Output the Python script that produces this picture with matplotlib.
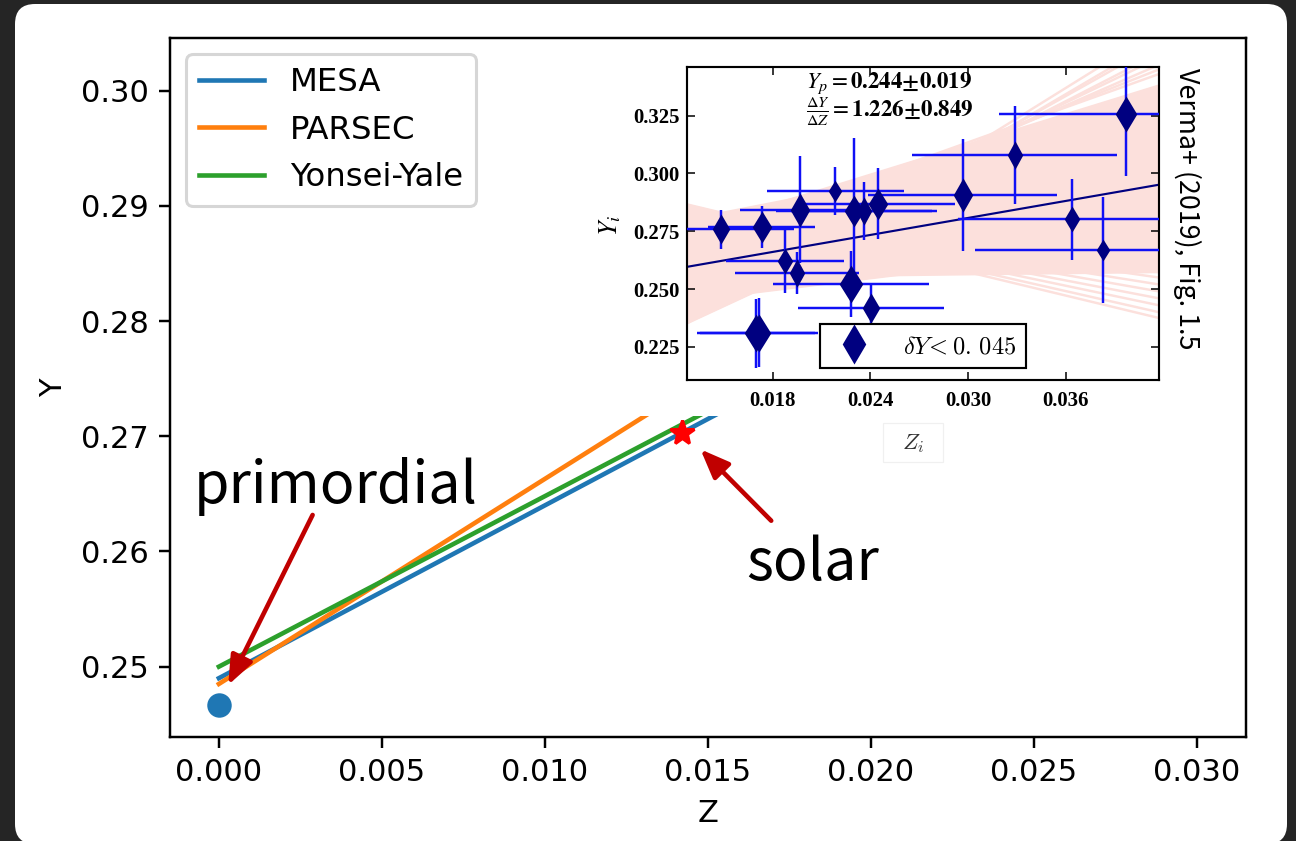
import numpy as np
import matplotlib
matplotlib.use("Agg")
import matplotlib.pyplot as plt
from matplotlib.patches import FancyBboxPatch, Rectangle
from matplotlib.transforms import IdentityTransform
from matplotlib.lines import Line2D

# ---------------- data: main panel ----------------
model_names = ["MESA", "PARSEC", "Yonsei-Yale"]
model_Yp = [0.249, 0.2485, 0.250]          # primordial helium of each grid
model_dYdZ = [1.50, 1.78, 1.48]            # enrichment ratio of each grid
model_Z_range = [0.0, 0.030]

primordial_Z = [0.0]
primordial_Y = [0.2467]
solar_Z = [0.0142]
solar_Y = [0.2703]

# ---------------- data: inset (Verma+ 2019, Fig. 1.5) ----------------
Zi = [0.01482, 0.01732, 0.01875, 0.01948, 0.01970, 0.02184, 0.02300, 0.02361,
      0.02281, 0.02446, 0.02404, 0.01698, 0.01716, 0.02967, 0.03285, 0.03635,
      0.03829, 0.03970]
Yi = [0.2758, 0.2769, 0.2620, 0.2570, 0.2844, 0.2924, 0.2837, 0.2837,
      0.2522, 0.2870, 0.2418, 0.2309, 0.2312, 0.2905, 0.3080, 0.2801,
      0.2668, 0.3257]
Zi_err = [0.0045, 0.0033, 0.0036, 0.0038, 0.0037, 0.0042, 0.0048, 0.0045,
          0.0048, 0.0047, 0.0045, 0.0036, 0.0036, 0.0058, 0.0063, 0.0070,
          0.0079, 0.0078]
Yi_err = [0.0083, 0.0092, 0.0137, 0.0090, 0.0230, 0.0103, 0.0318, 0.0124,
          0.0141, 0.0153, 0.0103, 0.0148, 0.0148, 0.0242, 0.0212, 0.0175,
          0.0229, 0.0268]
marker_sizes = [5.5, 6.0, 4.4, 4.9, 6.5, 3.8, 6.0, 4.9, 7.6, 6.0, 5.5, 7.6,
                7.6, 6.5, 4.9, 4.4, 3.8, 7.1]

fit_Yp = 0.244
fit_dYdZ = 1.226

# posterior sample lines, given by their Y at the two inset x-limits
inset_xlim = [0.01276, 0.04171]
inset_ylim = [0.2107, 0.3459]
core_Y_left = [0.2353, 0.2450, 0.2550, 0.2650, 0.2838, 0.2750, 0.2800]
core_Y_right = [0.3300, 0.2700, 0.2574, 0.2574, 0.2700, 0.3380, 0.3200]
outer_Y_left = [0.2866, 0.2862, 0.2858, 0.2852, 0.2848, 0.2845, 0.2842,
                0.2353, 0.2380, 0.2420, 0.2470, 0.2520, 0.2580, 0.2640, 0.2700]
outer_Y_right = [0.2375, 0.2400, 0.2430, 0.2460, 0.2490, 0.2520, 0.2550,
                 0.3620, 0.3580, 0.3560, 0.3520, 0.3500, 0.3470, 0.3450, 0.3430]

inset_xticks = [0.018, 0.024, 0.030, 0.036]
inset_yticks = [0.225, 0.250, 0.275, 0.300, 0.325]

# ---------------- figure ----------------
DPI = 220
W, H = 1296, 841
fig = plt.figure(figsize=(W / DPI, H / DPI), dpi=DPI, facecolor="#252525")


def px_rect(x0, y0, x1, y1):
    return [x0 / W, 1 - y1 / H, (x1 - x0) / W, (y1 - y0) / H]


card = FancyBboxPatch((15, -3), 1272, 840, boxstyle="round,pad=0,rounding_size=20",
                      transform=IdentityTransform(), facecolor="white",
                      edgecolor="none", zorder=-10)
fig.add_artist(card)

ax = fig.add_axes(px_rect(170, 38.3, 1245.7, 736.7), zorder=0)
ax.set_facecolor("white")
zr = np.array(model_Z_range)
for name, yp, s in zip(model_names, model_Yp, model_dYdZ):
    ax.plot(zr, yp + s * zr, label=name)
ax.plot(primordial_Z, primordial_Y, "o", color="C0", ms=7)
ax.plot(solar_Z, solar_Y, "*", color="red", ms=8.2)
ax.set_xlim(-0.0015, 0.0315)
ax.set_ylim(0.24392, 0.30455)
ax.set_xticks([0.0, 0.005, 0.010, 0.015, 0.020, 0.025, 0.030])
ax.set_yticks([0.25, 0.26, 0.27, 0.28, 0.29, 0.30])
ax.set_xlabel("Z")
ax.set_ylabel("Y")
ax.legend(loc="upper left", fontsize=10.6)

cjk = ["Noto Sans CJK SC", "DejaVu Sans"]
arrow_kw = dict(arrowstyle="-|>,head_length=0.8,head_width=0.32",
                color="#c00000", lw=1.5, shrinkA=0, shrinkB=0)
ax.text(-0.000768, 0.26418, "primordial", family=cjk, fontsize=18.8,
        ha="left", va="baseline")
ax.annotate("", xy=(0.000286, 0.24841), xytext=(0.002875, 0.26317),
            arrowprops=arrow_kw)
ax.text(0.016186, 0.25753, "solar", family=cjk, fontsize=18.8,
        ha="left", va="baseline")
ax.annotate("", xy=(0.014773, 0.26887), xytext=(0.016944, 0.26267),
            arrowprops=arrow_kw)

# white background of the pasted inset figure
fig.add_artist(Rectangle((588 / W, 1 - 415.7 / H), (1215 - 588) / W,
                         (415.7 - 50) / H, transform=fig.transFigure,
                         facecolor="white", edgecolor="none", zorder=1))

# ---------------- inset ----------------
ins = fig.add_axes(px_rect(687.3, 67.3, 1159, 380), zorder=2)
ins.set_xlim(inset_xlim)
ins.set_ylim(inset_ylim)
pink = "#fce0dc"
xl = np.array(inset_xlim)
xg = np.linspace(xl[0], xl[1], 80)
core = np.array([yl + (yr - yl) * (xg - xl[0]) / (xl[1] - xl[0])
                 for yl, yr in zip(core_Y_left, core_Y_right)])
ins.fill_between(xg, core.min(axis=0), core.max(axis=0), color=pink, lw=0, zorder=1)
for yl, yr in zip(core_Y_left + outer_Y_left, core_Y_right + outer_Y_right):
    ins.plot(xl, [yl, yr], color=pink, lw=0.8, zorder=1.1)
ins.plot(xl, fit_Yp + fit_dYdZ * xl, color="#000080", lw=0.7, zorder=2)
ins.errorbar(Zi, Yi, xerr=Zi_err, yerr=Yi_err, fmt="none", ecolor="#1010f5",
             elinewidth=0.8, capsize=0, zorder=3)
for z, y, ms in zip(Zi, Yi, marker_sizes):
    ins.plot(z, y, "d", color="#000080", ms=ms, mec="#000080", zorder=4)

ins.set_xticks(inset_xticks, labels=["%.3f" % t for t in inset_xticks],
               fontfamily="Liberation Serif", fontweight="bold", fontsize=6.8)
ins.set_yticks(inset_yticks, labels=["%.3f" % t for t in inset_yticks],
               fontfamily="Liberation Serif", fontweight="bold", fontsize=6.8)
ins.tick_params(direction="in", top=True, right=True, length=2.6, width=0.5)
ins.tick_params(axis="y", pad=2.5)
for sp in ins.spines.values():
    sp.set_linewidth(0.7)

ins.text(0.252, 0.948, r"$Y_p=\mathbf{0.244{\pm}0.019}$", transform=ins.transAxes,
         fontsize=7.5, math_fontfamily="stix", ha="left", va="center")
ins.text(0.252, 0.858, r"$\frac{\Delta Y}{\Delta Z}=\mathbf{1.226{\pm}0.849}$",
         transform=ins.transAxes, fontsize=7.5, math_fontfamily="stix",
         ha="left", va="center")
ins.text(-0.164, 0.496, r"$Y_i$", transform=ins.transAxes, rotation=90,
         fontsize=8.5, math_fontfamily="stix", ha="center", va="center")

h = Line2D([], [], marker="d", color="#000080", ls="none", ms=8)
leg = ins.legend([h], [r"$\delta Y\!<0.\,045$"], loc="lower center",
                 fancybox=False, framealpha=1, edgecolor="black", fontsize=8,
                 handletextpad=1.0, borderpad=0.4)
leg.get_frame().set_linewidth(0.7)
for t in leg.get_texts():
    t.set_math_fontfamily("cm")

# Z_i label patch of the pasted figure
fig.add_artist(Rectangle((883.3 / W, 1 - 461.7 / H), 60 / W, 39 / H,
                         transform=fig.transFigure, facecolor="white",
                         edgecolor="#f0f0f0", lw=0.4, zorder=3))
fig.text(913.3 / W, 1 - 443.3 / H, r"$Z_i$", fontsize=7.5, math_fontfamily="cm",
         ha="center", va="center", color="#333333", zorder=4)

fig.text(1187 / W, 1 - 209 / H, "Verma+ (2019), Fig. 1.5", rotation=270,
         family=cjk, fontsize=8.8, ha="center", va="center", zorder=4)

fig.savefig("out.png", dpi=DPI, facecolor=fig.get_facecolor())
